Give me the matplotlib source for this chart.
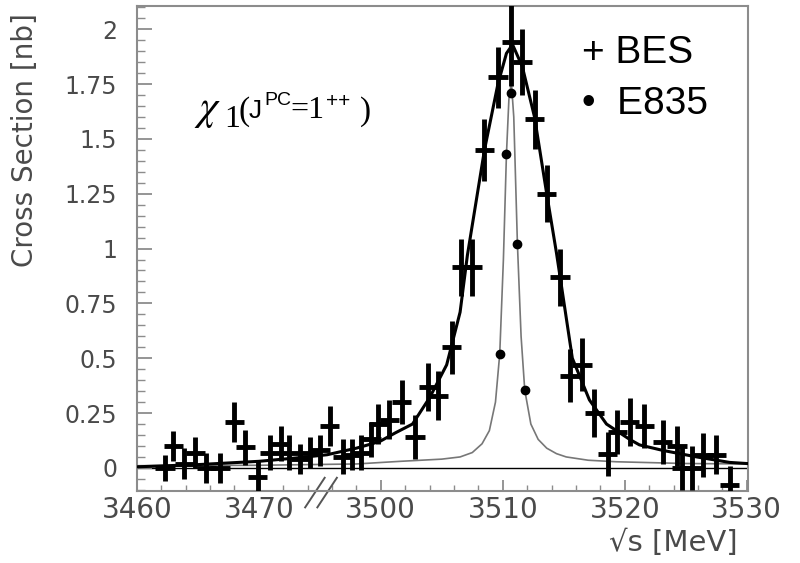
import numpy as np
import matplotlib
matplotlib.use("Agg")
import matplotlib.pyplot as plt

# x values are positions on the (broken) axis: 3460..3470 read as is,
# everything after the // break is shifted by 20 MeV (3480 on axis = 3500 MeV)
bes_x = [3462.3, 3463.0, 3463.9, 3464.8, 3465.7, 3466.8, 3468.0, 3468.9, 3469.9, 3470.9,
         3471.8, 3472.5, 3473.4, 3474.2, 3475.0, 3475.8, 3476.9, 3477.6, 3478.4, 3479.2,
         3479.8, 3480.7, 3481.7, 3482.8, 3483.9, 3484.7, 3485.8, 3486.6, 3487.5, 3488.5,
         3489.6, 3490.7, 3491.6, 3492.6, 3493.6, 3494.7, 3495.5, 3496.5, 3497.5, 3498.6,
         3499.4, 3500.4, 3501.6, 3503.1, 3504.3, 3504.7, 3505.5, 3506.4, 3507.5, 3508.6]
bes_y = [0.00, 0.10, 0.02, 0.07, 0.00, 0.00, 0.21, 0.095, -0.04, 0.07,
         0.11, 0.07, 0.04, 0.07, 0.08, 0.19, 0.05, 0.06, 0.07, 0.13,
         0.20, 0.22, 0.30, 0.14, 0.37, 0.33, 0.55, 0.915, 0.915, 1.45,
         1.78, 1.94, 1.85, 1.59, 1.25, 0.87, 0.42, 0.47, 0.25, 0.065,
         0.165, 0.21, 0.19, 0.12, 0.10, 0.00, 0.00, 0.06, 0.06, -0.08]
bes_err = [0.06, 0.07, 0.07, 0.07, 0.07, 0.07, 0.09, 0.08, 0.07, 0.08,
           0.08, 0.08, 0.07, 0.07, 0.07, 0.09, 0.08, 0.07, 0.08, 0.08,
           0.09, 0.09, 0.10, 0.10, 0.11, 0.11, 0.12, 0.13, 0.13, 0.14,
           0.14, 0.20, 0.15, 0.135, 0.13, 0.13, 0.12, 0.12, 0.11, 0.10,
           0.10, 0.11, 0.10, 0.10, 0.09, 0.10, 0.10, 0.10, 0.09, 0.09]
bes_xerr = 0.8

e835_x = [3489.75, 3490.3, 3490.7, 3491.2, 3491.8]
e835_y = [0.52, 1.43, 1.71, 1.02, 0.355]

# fitted curves
bes_fit_x = [3460, 3465, 3470, 3473, 3475.6, 3478, 3479.9, 3481.2, 3482.6, 3484.0, 3485.4,
             3486.5, 3487.1, 3488.5, 3489.6, 3490.3, 3490.8, 3491.6, 3492.6, 3493.6, 3494.4,
             3494.7, 3495.7, 3497.1, 3498.5, 3500.4, 3501.2, 3503.1, 3505.9, 3508.6, 3510]
bes_fit_y = [0.005, 0.015, 0.03, 0.045, 0.06, 0.09, 0.12, 0.16, 0.2, 0.32, 0.47,
             0.71, 0.97, 1.45, 1.75, 1.89, 1.93, 1.83, 1.60, 1.25, 0.98,
             0.87, 0.50, 0.31, 0.20, 0.13, 0.105, 0.08, 0.05, 0.025, 0.02]

e835_fit_x = [3460, 3470, 3478, 3481.6, 3485, 3486.5, 3487.5, 3488.3, 3488.9, 3489.4,
              3489.75, 3490.05, 3490.3, 3490.5, 3490.7, 3490.9, 3491.2, 3491.5, 3491.8,
              3492.3, 3492.9, 3493.6, 3494.4, 3495.2, 3497, 3499.3, 3505, 3510]
e835_fit_y = [0.01, 0.012, 0.018, 0.03, 0.04, 0.05, 0.07, 0.11, 0.17, 0.3,
              0.52, 0.95, 1.43, 1.68, 1.76, 1.6, 1.02, 0.6, 0.355,
              0.2, 0.13, 0.09, 0.065, 0.05, 0.035, 0.028, 0.02, 0.018]

tick_pos = [3460, 3470, 3480, 3490, 3500, 3510]
tick_lab = ["3460", "3470", "3500", "3510", "3520", "3530"]

W, H = 800, 563
fig = plt.figure(figsize=(W / 100, H / 100), dpi=100)
ax = fig.add_axes([0.171, 0.128, 0.764, 0.861])


def ptext(x, y, s, **kw):
    # place text by pixel position (from top-left), baseline aligned
    fig.text(x / W, 1 - y / H, s, va="baseline", ha="left", color="black", **kw)


frame = "#8c8c8c"
ax.axhline(0, color="black", lw=1.0, zorder=1)
ax.plot(e835_fit_x, e835_fit_y, color="#777777", lw=1.2, zorder=2)
ax.plot(bes_fit_x, bes_fit_y, color="black", lw=2.2, zorder=3)
ax.errorbar(bes_x, bes_y, yerr=bes_err, xerr=bes_xerr, fmt="none",
            ecolor="black", elinewidth=3.5, capsize=0, zorder=4)
ax.plot(e835_x, e835_y, "o", color="black", ms=6, zorder=5)

ax.set_xlim(3460, 3510.1)
ax.set_ylim(-0.105, 2.105)

ax.set_xticks(tick_pos)
ax.set_xticklabels(tick_lab)
ax.set_xticks(np.arange(3460, 3511, 2), minor=True)
ax.set_yticks(np.arange(0, 2.01, 0.25))
ax.set_yticklabels(["0", "0.25", "0.5", "0.75", "1", "1.25", "1.5", "1.75", "2"])
ax.set_yticks(np.arange(-0.1, 2.11, 0.05), minor=True)

ax.tick_params(which="both", direction="in", colors=frame, labelcolor="#4a4a4a")
ax.tick_params(axis="x", which="major", length=8, width=1.3, labelsize=20, pad=4)
ax.tick_params(axis="x", which="minor", length=4, width=1.0)
ax.tick_params(axis="y", which="major", length=11, width=1.3, labelsize=17, pad=14)
ax.tick_params(axis="y", which="minor", length=6, width=1.0)
for s in ax.spines.values():
    s.set_color(frame)
    s.set_linewidth(1.5)

ax.set_ylabel("Cross Section [nb]", fontsize=20, color="#4a4a4a")
ax.yaxis.set_label_coords(-0.16, 0.724)
fig.text(0.842, 0.022, "\u221as [MeV]", fontsize=21, color="#4a4a4a", ha="center")

# axis break marks
for dx in (0.0, 1.0):
    ax.plot([3473.8 + dx, 3475.4 + dx], [-0.18, -0.045], color="#555555", lw=1.4,
            clip_on=False)

# chi_1 (J^PC = 1^++) label
ptext(199, 119, "\u03c7", fontsize=30, family="STIXGeneral", style="italic")
ptext(224, 127, "1", fontsize=23, family="Liberation Serif")
ptext(239, 120, "(", fontsize=24, family="Liberation Serif")
ptext(249, 118, "J", fontsize=19, family="Liberation Sans")
ptext(264, 105, "PC", fontsize=14, family="Liberation Sans")
ptext(290, 118, "=1", fontsize=23, family="Liberation Serif")
ptext(326, 107, "++", fontsize=15, family="Liberation Sans")
ptext(360, 120, ")", fontsize=24, family="Liberation Serif")

ptext(582, 63, "+ BES", fontsize=28, family="Liberation Sans")
ptext(582, 114, "\u2022  E835", fontsize=28, family="Liberation Sans")

fig.savefig("out.png", dpi=100)
